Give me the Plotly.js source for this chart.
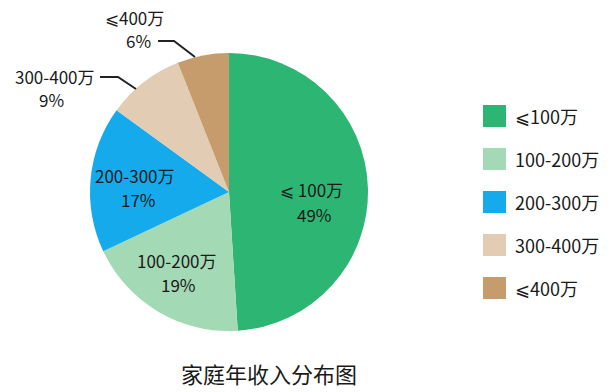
<!DOCTYPE html>
<html>
<head>
<meta charset="utf-8">
<script src="https://cdn.plot.ly/plotly-3.0.1.min.js"></script>
<style>html,body{margin:0;padding:0;background:#fff;}#chart{width:612px;height:392px;}</style>
</head>
<body>
<div id="chart"></div>
<script>
const labels = ['⩽100万', '100-200万', '200-300万', '300-400万', '⩽400万'];
const sliceLabels = ['⩽ 100万', '100-200万', '200-300万', '300-400万', '⩽400万'];
const values = [49, 19, 17, 9, 6];
const colors = ['#2db673', '#a3d9b4', '#15aaeb', '#e2ccb3', '#c69c6d'];
const chartTitle = '家庭年收入分布图';

const W = 612, H = 392;
const px = x => x / W;
const py = y => 1 - y / H;
const FONT = '"Noto Sans CJK SC", "Noto Sans", sans-serif';
const TXT = '#1a1a1a';

// pie geometry (pixels)
const cx = 229, cy = 192, r = 139;

const data = [{
  type: 'pie',
  labels: labels,
  values: values,
  sort: false,
  direction: 'clockwise',
  rotation: 0,
  textinfo: 'none',
  hoverinfo: 'label+percent',
  marker: {colors: colors, line: {width: 0}},
  domain: {x: [px(cx - r), px(cx + r)], y: [py(cy + r), py(cy - r)]},
  showlegend: false
}];

// label positions (pixels) per slice: [nameX, nameY, pctX, pctY]
const labelPos = [[311, 190, 314, 214], [177, 260, 178, 284], [135, 175, 138, 199],
                  [55, 76, 51, 100], [134, 17, 138, 41]];
const annotations = [];
values.forEach((v, i) => {
  const p = labelPos[i];
  annotations.push({xref: 'paper', yref: 'paper', x: px(p[0]), y: py(p[1]),
    xanchor: 'center', yanchor: 'middle', text: sliceLabels[i], showarrow: false,
    borderpad: 0, font: {family: FONT, size: 17, color: TXT}});
  annotations.push({xref: 'paper', yref: 'paper', x: px(p[2]), y: py(p[3]),
    xanchor: 'center', yanchor: 'middle', text: v + '%', showarrow: false,
    borderpad: 0, font: {family: FONT, size: 17, color: TXT}});
});

// leader lines for small slices
const shapes = [
  {type: 'path', xref: 'paper', yref: 'paper',
   path: `M ${px(100)} ${py(77)} L ${px(118)} ${py(77)} L ${px(136)} ${py(89)}`,
   line: {color: '#222', width: 2}},
  {type: 'path', xref: 'paper', yref: 'paper',
   path: `M ${px(158)} ${py(41)} L ${px(174)} ${py(41)} L ${px(195)} ${py(57)}`,
   line: {color: '#222', width: 2}}
];

// custom legend (large squares)
labels.forEach((lab, i) => {
  const yc = 116 + i * 43;
  shapes.push({type: 'rect', xref: 'paper', yref: 'paper',
    x0: px(483), x1: px(506), y0: py(yc + 11), y1: py(yc - 11),
    fillcolor: colors[i], line: {width: 0}});
  annotations.push({xref: 'paper', yref: 'paper', x: px(514), y: py(yc),
    xanchor: 'left', yanchor: 'middle', text: lab, showarrow: false,
    borderpad: 0, font: {family: FONT, size: 18, color: TXT}});
});

const layout = {
  width: W, height: H,
  margin: {l: 0, r: 0, t: 0, b: 0},
  paper_bgcolor: '#fff',
  showlegend: false,
  title: {text: chartTitle, x: px(269), xanchor: 'center', y: py(375), yanchor: 'middle',
          font: {family: FONT, size: 22, color: TXT}},
  annotations: annotations,
  shapes: shapes
};

Plotly.newPlot('chart', data, layout, {displayModeBar: false, staticPlot: true});
</script>
</body>
</html>
